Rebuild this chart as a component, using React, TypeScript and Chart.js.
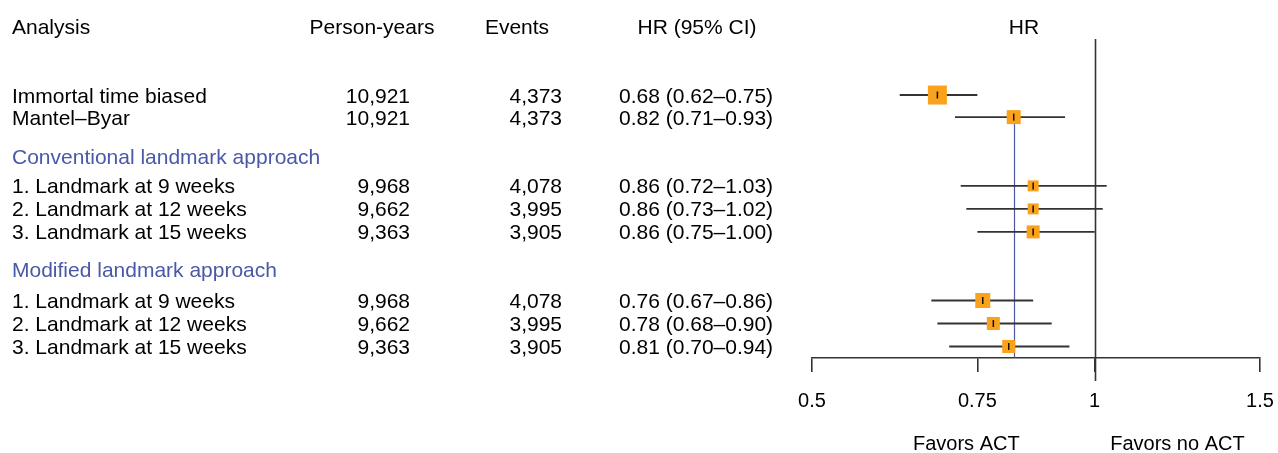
import React, { useEffect, useRef } from "react";
import { Chart, registerables } from "chart.js";

Chart.register(...registerables);

// ---- data ----
const HEADERS = ["Analysis", "Person-years", "Events", "HR (95% CI)", "HR"];
const LABELS = [
  "Immortal time biased",
  "Mantel–Byar",
  "1. Landmark at 9 weeks",
  "2. Landmark at 12 weeks",
  "3. Landmark at 15 weeks",
  "1. Landmark at 9 weeks",
  "2. Landmark at 12 weeks",
  "3. Landmark at 15 weeks",
];
const SECTIONS = ["Conventional landmark approach", "Modified landmark approach"];
const PERSON_YEARS = [10921, 10921, 9968, 9662, 9363, 9968, 9662, 9363];
const EVENTS = [4373, 4373, 4078, 3995, 3905, 4078, 3995, 3905];
const HR = [0.68, 0.82, 0.86, 0.86, 0.86, 0.76, 0.78, 0.81];
const LOWER = [0.62, 0.71, 0.72, 0.73, 0.75, 0.67, 0.68, 0.7];
const UPPER = [0.75, 0.93, 1.03, 1.02, 1.0, 0.86, 0.9, 0.94];
const X_TICKS = [0.5, 0.75, 1, 1.5];
const X_TICK_LABELS = ["0.5", "0.75", "1", "1.5"];
const FAVOR_LABELS = ["Favors ACT", "Favors no ACT"];

// ---- layout (kept apart from the data) ----
const ROW_POS = [3.0, 3.96, 6.95, 7.95, 8.95, 11.93, 12.93, 13.93];
const SECTION_POS = [5.65, 10.57];
const HEADER_POS = 0;
const MARKER_SIDE = [19, 14, 11, 11, 13, 15, 13, 13];
const FAVOR_AT = [0.73, 1.225];
const REFERENCE_HR = 1;
const BASE_ROW = 1; // Mantel–Byar drives the blue guide line

const FONT = '"Liberation Sans", Arial, Helvetica, sans-serif';
const ORANGE = "#FAA21B";
const BLUE = "#4a58a8";
const LINE = "#333333";

const fmt = (n: number) => n.toLocaleString("en-US");
const ci = (i: number) =>
  `${HR[i].toFixed(2)} (${LOWER[i].toFixed(2)}–${UPPER[i].toFixed(2)})`;

const forestPlugin = {
  id: "forestPlugin",
  beforeDatasetsDraw(chart: any) {
    const { ctx, chartArea } = chart;
    const xs = chart.scales.x;
    const ys = chart.scales.y;
    ctx.save();
    // reference line at HR = 1
    const x1 = Math.round(xs.getPixelForValue(REFERENCE_HR)) + 0.5;
    ctx.strokeStyle = LINE;
    ctx.lineWidth = 1.6;
    ctx.beginPath();
    ctx.moveTo(x1, ys.getPixelForValue(0.57));
    ctx.lineTo(x1, chartArea.bottom + 23);
    ctx.stroke();
    // blue guide at the Mantel–Byar estimate
    const xb = Math.round(xs.getPixelForValue(HR[BASE_ROW])) + 0.5;
    ctx.strokeStyle = BLUE;
    ctx.lineWidth = 1.2;
    ctx.beginPath();
    ctx.moveTo(xb, ys.getPixelForValue(ROW_POS[BASE_ROW]));
    ctx.lineTo(xb, chartArea.bottom);
    ctx.stroke();
    ctx.restore();
  },
  afterDraw(chart: any) {
    const { ctx, chartArea } = chart;
    const xs = chart.scales.x;
    const ys = chart.scales.y;
    ctx.save();
    const put = (t: string, px: number, cy: number, align: CanvasTextAlign, color: string, size: number) => {
      ctx.font = `${size}px ${FONT}`;
      ctx.fillStyle = color;
      ctx.textAlign = align;
      ctx.textBaseline = "alphabetic";
      ctx.fillText(t, px, cy + 0.358 * size);
    };
    const S = 21;
    const hy = ys.getPixelForValue(HEADER_POS);
    put(HEADERS[0], 12, hy, "left", "#000", S);
    put(HEADERS[1], 372, hy, "center", "#000", S);
    put(HEADERS[2], 517, hy, "center", "#000", S);
    put(HEADERS[3], 697, hy, "center", "#000", S);
    put(HEADERS[4], 1024, hy, "center", "#000", S);
    LABELS.forEach((lab, i) => {
      const cy = ys.getPixelForValue(ROW_POS[i]);
      put(lab, 12, cy, "left", "#000", S);
      put(fmt(PERSON_YEARS[i]), 410, cy, "right", "#000", S);
      put(fmt(EVENTS[i]), 562, cy, "right", "#000", S);
      put(ci(i), 619, cy, "left", "#000", S);
    });
    SECTIONS.forEach((s, i) => {
      put(s, 12, ys.getPixelForValue(SECTION_POS[i]), "left", BLUE, S);
    });
    FAVOR_LABELS.forEach((s, i) => {
      put(s, xs.getPixelForValue(FAVOR_AT[i]), chartArea.bottom + 85, "center", "#000", 20);
    });
    ctx.restore();
  },
};

export default function App() {
  const ref = useRef<HTMLCanvasElement | null>(null);
  useEffect(() => {
    if (!ref.current) return;
    const ciSets = HR.map((_, i) => ({
      type: "line" as const,
      data: [
        { x: LOWER[i], y: ROW_POS[i] },
        { x: UPPER[i], y: ROW_POS[i] },
      ],
      borderColor: LINE,
      borderWidth: 1.8,
      pointRadius: 0,
      showLine: true,
      order: 3,
      clip: false as any,
    }));
    const chart = new Chart(ref.current, {
      type: "scatter",
      data: {
        datasets: [
          {
            data: HR.map((v, i) => ({ x: v, y: ROW_POS[i] })),
            pointStyle: "line",
            rotation: 90,
            radius: 3.5,
            borderColor: "#111",
            borderWidth: 1.5,
            order: 1,
            clip: false as any,
          } as any,
          {
            data: HR.map((v, i) => ({ x: v, y: ROW_POS[i] })),
            pointStyle: "rect",
            radius: MARKER_SIDE.map((s) => s / Math.SQRT2),
            backgroundColor: ORANGE,
            borderWidth: 0,
            order: 2,
            clip: false as any,
          } as any,
          ...ciSets,
        ],
      },
      options: {
        animation: false,
        responsive: false,
        maintainAspectRatio: false,
        devicePixelRatio: 1,
        layout: { autoPadding: false, padding: { left: 812, right: 18, top: 0, bottom: 0 } },
        plugins: { legend: { display: false }, tooltip: { enabled: false } },
        events: [],
        scales: {
          x: {
            type: "logarithmic",
            position: "bottom",
            min: 0.5,
            max: 1.5,
            border: { display: true, color: LINE, width: 1.6 },
            grid: {
              display: true,
              drawOnChartArea: false,
              drawTicks: true,
              tickLength: 14,
              color: LINE,
              lineWidth: 1.6,
            },
            ticks: {
              autoSkip: false,
              maxRotation: 0,
              padding: 17,
              color: "#000",
              font: { size: 20, family: FONT },
              callback: (_v: any, idx: number) => X_TICK_LABELS[idx],
            },
            afterBuildTicks: (scale: any) => {
              scale.ticks = X_TICKS.map((v) => ({ value: v }));
            },
            afterFit: (scale: any) => {
              scale.height = 95;
              scale.paddingLeft = 0;
              scale.paddingRight = 0;
            },
          },
          y: {
            type: "linear",
            display: false,
            reverse: true,
            min: -1.13,
            max: 14.43,
          },
        },
      },
      plugins: [forestPlugin],
    } as any);
    return () => chart.destroy();
  }, []);
  return (
    <div style={{ position: "absolute", left: 0, top: 0, width: 1278, height: 453, background: "#fff" }}>
      <canvas ref={ref} width={1278} height={453} style={{ display: "block", width: 1278, height: 453 }} />
    </div>
  );
}
